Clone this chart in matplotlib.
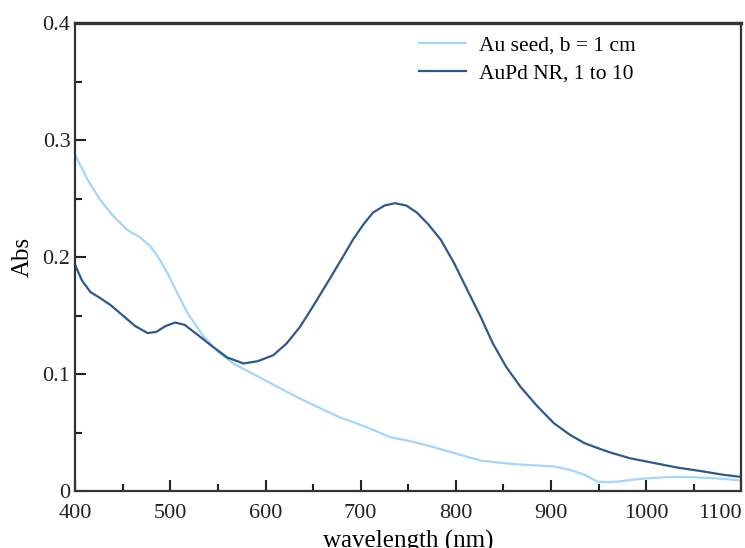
import matplotlib.pyplot as plt
from matplotlib.ticker import MultipleLocator, FuncFormatter

plt.rcParams["font.family"] = ["Liberation Serif", "DejaVu Serif"]

# Au seed, b = 1 cm
wl_seed = [400, 413, 426, 440, 455, 468, 479, 488, 497, 508, 518, 535, 550, 566,
           580, 594, 615, 636, 657, 678, 705, 731, 750, 770, 800, 826, 860, 903,
           920, 935, 949, 960, 970, 990, 1004, 1025, 1050, 1080, 1100]
abs_seed = [0.287, 0.266, 0.249, 0.235, 0.223, 0.217, 0.209, 0.199, 0.186, 0.168,
            0.152, 0.132, 0.119, 0.109, 0.103, 0.097, 0.088, 0.079, 0.071, 0.063,
            0.055, 0.046, 0.043, 0.039, 0.032, 0.026, 0.023, 0.021, 0.018, 0.014,
            0.008, 0.0075, 0.008, 0.010, 0.011, 0.012, 0.0118, 0.0105, 0.009]

# AuPd NR, 1 to 10
wl_nr = [400, 407, 416, 426, 437, 450, 463, 476, 485, 495, 505, 515, 531, 545,
         560, 577, 592, 608, 622, 636, 650, 665, 679, 692, 703, 713, 725, 736,
         748, 759, 771, 784, 798, 812, 826, 839, 853, 868, 885, 903, 920, 935,
         948, 962, 983, 1008, 1033, 1058, 1080, 1100]
abs_nr = [0.193, 0.180, 0.170, 0.165, 0.159, 0.150, 0.141, 0.135, 0.136, 0.141,
          0.144, 0.142, 0.132, 0.123, 0.114, 0.109, 0.111, 0.116, 0.126, 0.140,
          0.158, 0.178, 0.197, 0.215, 0.228, 0.238, 0.244, 0.246, 0.244, 0.238,
          0.228, 0.215, 0.195, 0.172, 0.149, 0.126, 0.106, 0.089, 0.073, 0.058,
          0.048, 0.041, 0.037, 0.033, 0.028, 0.024, 0.020, 0.017, 0.014, 0.012]

fig = plt.figure(figsize=(7.45, 5.48), dpi=100)
ax = fig.add_axes([0.101, 0.104, 0.894, 0.854])

ax.plot(wl_seed, abs_seed, color="#a3d6f8", lw=1.6, label="Au seed, b = 1 cm")
ax.plot(wl_nr, abs_nr, color="#2d5a8c", lw=1.6, label="AuPd NR, 1 to 10")

ax.set_xlim(400, 1100)
ax.set_ylim(0, 0.4)
ax.xaxis.set_major_locator(MultipleLocator(100))
ax.xaxis.set_minor_locator(MultipleLocator(50))
ax.yaxis.set_major_locator(MultipleLocator(0.1))
ax.yaxis.set_minor_locator(MultipleLocator(0.05))
ax.yaxis.set_major_formatter(FuncFormatter(lambda v, p: "0" if v == 0 else f"{v:.1f}"))

ax.tick_params(which="both", direction="in", top=False, right=False,
               labelsize=16, width=1.5, colors="#222222")
ax.tick_params(which="major", length=8)
ax.tick_params(which="minor", length=5)
ax.tick_params(axis="x", pad=9)
for side, sp in ax.spines.items():
    sp.set_linewidth(1.6)
    sp.set_color("#333333")
ax.spines["top"].set_linewidth(2.4)

ax.set_xlabel("wavelength (nm)", fontsize=18, labelpad=5)
ax.set_ylabel("Abs", fontsize=18, labelpad=6)

ax.legend(loc="upper left", frameon=False, fontsize=15.5, handlelength=2.15,
          handletextpad=0.6, bbox_to_anchor=(0.498, 1.0), borderaxespad=0,
          borderpad=0.58, labelspacing=0.36)

# keep "1100" inside the figure, as in the original
fig.canvas.draw()
for lab in ax.get_xticklabels():
    if lab.get_text() == "1100":
        lab.set_horizontalalignment("right")
        lab.set_x(lab.get_position()[0] + 4)
fig.savefig("out.png", dpi=100)
